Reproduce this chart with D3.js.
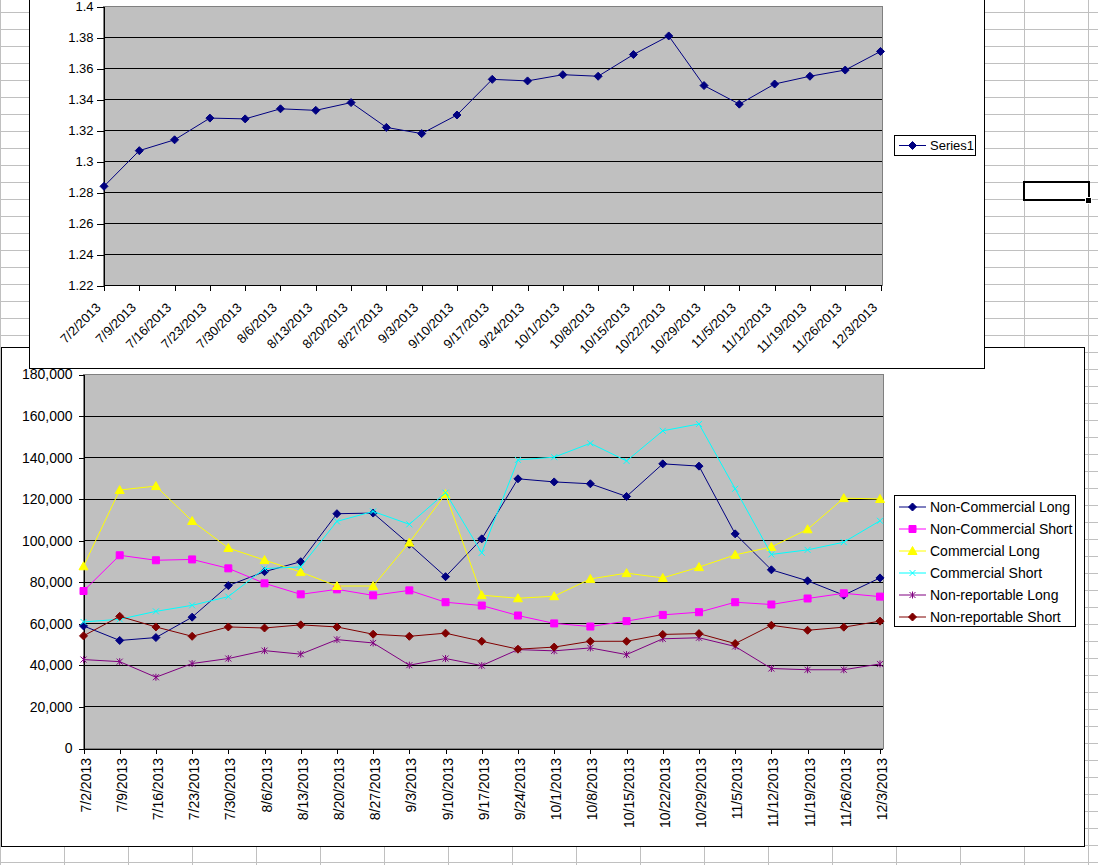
<!DOCTYPE html>
<html>
<head>
<meta charset="utf-8">
<script src="https://cdn.jsdelivr.net/npm/d3@7"></script>
<style>
  body { margin: 0; background: #fff; }
  svg { display: block; font-family: "Liberation Sans", Arial, sans-serif; }
</style>
</head>
<body>
<svg id="sheet" width="1098" height="865"></svg>
<script>
// weekly report dates
const dates = ['7/2/2013','7/9/2013','7/16/2013','7/23/2013','7/30/2013','8/6/2013','8/13/2013',
  '8/20/2013','8/27/2013','9/3/2013','9/10/2013','9/17/2013','9/24/2013','10/1/2013','10/8/2013',
  '10/15/2013','10/22/2013','10/29/2013','11/5/2013','11/12/2013','11/19/2013','11/26/2013','12/3/2013'];

// top chart
const series1 = [1.284, 1.307, 1.314, 1.328, 1.3275, 1.334, 1.333, 1.338, 1.322, 1.318, 1.330, 1.353,
  1.352, 1.356, 1.355, 1.369, 1.381, 1.349, 1.337, 1.350, 1.355, 1.359, 1.371];
const rateTicks = [1.22, 1.24, 1.26, 1.28, 1.3, 1.32, 1.34, 1.36, 1.38, 1.4];

// bottom chart
const nonCommLong = [59000, 52000, 53400, 63200, 78400, 85100, 89900, 113000, 113300, 98300, 82700,
  100900, 129800, 128300, 127400, 121300, 137000, 135900, 103300, 86000, 80700, 73800, 82100];
const nonCommShort = [75800, 93000, 90600, 91000, 86700, 79500, 74200, 76600, 73700, 76100, 70400,
  68800, 64000, 60200, 58700, 61300, 64300, 65600, 70400, 69300, 72200, 74700, 73100];
const commLong = [87700, 124400, 126300, 109500, 96500, 90700, 84900, 78200, 78200, 99100, 122500,
  73800, 72300, 73300, 81600, 84400, 82100, 87300, 93200, 97000, 105500, 120500, 120100];
const commShort = [60900, 62200, 66000, 68900, 73100, 86600, 87400, 109300, 114100, 107900, 123100,
  94200, 138900, 140200, 146900, 138400, 152900, 156200, 125000, 93400, 95600, 99300, 109600];
const nonRepLong = [42800, 41800, 34300, 40900, 43300, 47100, 45400, 52400, 50800, 40100, 43300,
  39900, 47600, 47000, 48400, 45200, 52800, 53300, 49100, 38500, 37900, 37900, 40700];
const nonRepShort = [54200, 63600, 58500, 54000, 58500, 58000, 59500, 58500, 55000, 54000, 55500,
  51600, 47800, 48800, 51600, 51600, 54900, 55300, 50500, 59300, 56900, 58400, 61300];
const seriesNames = ['Non-Commercial Long', 'Non-Commercial Short', 'Commercial Long',
  'Commercial Short', 'Non-reportable Long', 'Non-reportable Short'];
const positionTicks = [0, 20000, 40000, 60000, 80000, 100000, 120000, 140000, 160000, 180000];

// styles (excel 2003 default palette)
const colors = ['#000080', '#ff00ff', '#ffff00', '#00ffff', '#800080', '#800000'];
const markers = ['diamond', 'square', 'triangle', 'x', 'star', 'diamond'];

const svg = d3.select('#sheet');

function markerPath(type) {
  switch (type) {
    case 'diamond': return 'M0,-4L4,0L0,4L-4,0Z';
    case 'square': return 'M-3.5,-3.5h7v7h-7Z';
    case 'triangle': return 'M0,-4.5L4.5,3.5L-4.5,3.5Z';
    case 'x': return 'M-3,-3L3,3M-3,3L3,-3';
    case 'star': return 'M-3,-3L3,3M-3,3L3,-3M0,-3.5L0,3.5';
  }
}

function drawMarker(g, type, color, cx, cy) {
  let open = (type == 'x' || type == 'star');
  g.append('path')
    .attr('d', markerPath(type))
    .attr('transform', `translate(${cx},${cy})`)
    .attr('fill', open ? 'none' : color)
    .attr('stroke', color)
    .attr('stroke-width', 1);
}

// Worksheet cell grid
{
  let grid = svg.append('g').attr('shape-rendering', 'crispEdges');
  grid.append('rect').attr('width', 1098).attr('height', 865).attr('fill', '#fff');
  for (let k = 0; k * 64 < 1098; ++k) {
    grid.append('line').attr('x1', k*64 + 0.5).attr('x2', k*64 + 0.5)
      .attr('y1', 0).attr('y2', 865).attr('stroke', '#c0c0c0');
  }
  for (let k = 0; k * 17 + 12 < 865; ++k) {
    grid.append('line').attr('x1', 0).attr('x2', 1098)
      .attr('y1', k*17 + 12.5).attr('y2', k*17 + 12.5).attr('stroke', '#c0c0c0');
  }
  // active cell
  grid.append('rect').attr('x', 1024).attr('y', 182).attr('width', 65).attr('height', 18)
    .attr('fill', 'none').attr('stroke', '#000').attr('stroke-width', 2.5);
  grid.append('rect').attr('x', 1084.5).attr('y', 196.5).attr('width', 7).attr('height', 7)
    .attr('fill', '#fff');
  grid.append('rect').attr('x', 1085.5).attr('y', 197.5).attr('width', 5).attr('height', 5)
    .attr('fill', '#000');
}

// Bottom chart: positions
{
  let chart = svg.append('g');
  chart.append('rect').attr('x', 1.5).attr('y', 347.5).attr('width', 1083).attr('height', 499)
    .attr('fill', '#fff').attr('stroke', '#000').attr('shape-rendering', 'crispEdges');

  const x = d3.scalePoint().domain(dates).range([83.5, 880]);
  const y = d3.scaleLinear().domain([0, 180000]).range([748.5, 374.5]);
  const left = 83.5, right = 883;

  chart.append('rect').attr('x', left).attr('y', y(180000)).attr('width', right - left)
    .attr('height', y(0) - y(180000)).attr('fill', '#c0c0c0');

  chart.append('g').selectAll('line').data(positionTicks.slice(1, -1)).join('line')
    .attr('x1', left).attr('x2', right)
    .attr('y1', d => y(d)).attr('y2', d => y(d))
    .attr('stroke', '#000').attr('shape-rendering', 'crispEdges');

  chart.append('rect').attr('x', left).attr('y', y(180000)).attr('width', right - left)
    .attr('height', y(0) - y(180000)).attr('fill', 'none').attr('stroke', '#808080')
    .attr('shape-rendering', 'crispEdges');

  let yAxis = chart.append('g').attr('transform', `translate(${left},0)`)
    .call(d3.axisLeft(y).tickValues(positionTicks).tickSize(5).tickPadding(6).tickFormat(d3.format(',')));
  let xAxis = chart.append('g').attr('transform', `translate(0,${y(0)})`)
    .call(d3.axisBottom(x).tickSize(5));
  for (let a of [yAxis, xAxis]) {
    a.attr('shape-rendering', 'crispEdges');
    a.selectAll('path.domain').attr('stroke', '#000');
    a.selectAll('.tick line').attr('stroke', '#000');
    a.selectAll('text').attr('fill', '#000').style('font-size', '14px').style('font-family', '"Liberation Sans", Arial, sans-serif');
  }
  yAxis.select('path.domain').attr('d', `M0.5,${y(180000)}V${y(0)}`);
  xAxis.select('path.domain').attr('d', `M${left},0.5H${right}`);
  xAxis.selectAll('text')
    .attr('y', 0).attr('dy', 0)
    .attr('text-anchor', 'end')
    .attr('transform', 'translate(6.5,9.5) rotate(-90)');

  const all = [nonCommLong, nonCommShort, commLong, commShort, nonRepLong, nonRepShort];
  const line = d3.line().x((d, i) => x(dates[i])).y(d => y(d));
  all.forEach((vals, s) => {
    let g = chart.append('g');
    g.append('path').attr('d', line(vals)).attr('fill', 'none')
      .attr('stroke', colors[s]).attr('stroke-width', 1);
    vals.forEach((v, i) => drawMarker(g, markers[s], colors[s], x(dates[i]), y(v)));
  });

  // legend
  let lg = chart.append('g');
  lg.append('rect').attr('x', 894.5).attr('y', 495.5).attr('width', 181).attr('height', 131)
    .attr('fill', '#fff').attr('stroke', '#000').attr('shape-rendering', 'crispEdges');
  seriesNames.forEach((name, s) => {
    let cy = 507 + s * 22;
    lg.append('line').attr('x1', 899).attr('x2', 926).attr('y1', cy).attr('y2', cy)
      .attr('stroke', colors[s]);
    drawMarker(lg, markers[s], colors[s], 912.5, cy);
    lg.append('text').attr('x', 930).attr('y', cy).attr('dy', '0.36em')
      .style('font-size', '14px').attr('fill', '#000').text(name);
  });
}

// Top chart: rate
{
  let chart = svg.append('g');
  chart.append('rect').attr('x', 29.5).attr('y', -10).attr('width', 955).attr('height', 378.5)
    .attr('fill', '#fff').attr('stroke', '#000').attr('shape-rendering', 'crispEdges');

  const x = d3.scalePoint().domain(dates).range([104, 880.5]);
  const y = d3.scaleLinear().domain([1.22, 1.4]).range([285.5, 6.5]);
  const left = 103.5, right = 882;

  chart.append('rect').attr('x', left).attr('y', y(1.4)).attr('width', right - left)
    .attr('height', y(1.22) - y(1.4)).attr('fill', '#c0c0c0');

  chart.append('g').selectAll('line').data(rateTicks.slice(1, -1)).join('line')
    .attr('x1', left).attr('x2', right)
    .attr('y1', d => y(d)).attr('y2', d => y(d))
    .attr('stroke', '#000').attr('shape-rendering', 'crispEdges');

  chart.append('rect').attr('x', left).attr('y', y(1.4)).attr('width', right - left)
    .attr('height', y(1.22) - y(1.4)).attr('fill', 'none').attr('stroke', '#808080')
    .attr('shape-rendering', 'crispEdges');

  let yAxis = chart.append('g').attr('transform', `translate(${left},0)`)
    .call(d3.axisLeft(y).tickValues(rateTicks).tickSize(7).tickPadding(3).tickFormat(d => +d.toFixed(2)));
  let xAxis = chart.append('g').attr('transform', `translate(0,${y(1.22)})`)
    .call(d3.axisBottom(x).tickSize(5));
  for (let a of [yAxis, xAxis]) {
    a.attr('shape-rendering', 'crispEdges');
    a.selectAll('path.domain').attr('stroke', '#000');
    a.selectAll('.tick line').attr('stroke', '#000');
    a.selectAll('text').attr('fill', '#000').style('font-size', '13px').style('font-family', '"Liberation Sans", Arial, sans-serif');
  }
  yAxis.select('path.domain').attr('d', `M0.5,${y(1.4)}V${y(1.22)}`);
  xAxis.select('path.domain').attr('d', `M${left},0H${right}`);
  xAxis.selectAll('text')
    .attr('y', 0).attr('dy', 0)
    .attr('text-anchor', 'end')
    .attr('transform', 'translate(-3,23) rotate(-45)');

  const line = d3.line().x((d, i) => x(dates[i])).y(d => y(d));
  chart.append('path').attr('d', line(series1)).attr('fill', 'none')
    .attr('stroke', colors[0]).attr('stroke-width', 1);
  series1.forEach((v, i) => drawMarker(chart, 'diamond', colors[0], x(dates[i]), y(v)));

  // legend
  chart.append('rect').attr('x', 894.5).attr('y', 135.5).attr('width', 81).attr('height', 20)
    .attr('fill', '#fff').attr('stroke', '#000').attr('shape-rendering', 'crispEdges');
  chart.append('line').attr('x1', 899).attr('x2', 926).attr('y1', 145.5).attr('y2', 145.5)
    .attr('stroke', colors[0]);
  drawMarker(chart, 'diamond', colors[0], 912.5, 145.5);
  chart.append('text').attr('x', 930).attr('y', 145.5).attr('dy', '0.36em')
    .style('font-size', '13px').attr('fill', '#000').text('Series1');
}
</script>
</body>
</html>
